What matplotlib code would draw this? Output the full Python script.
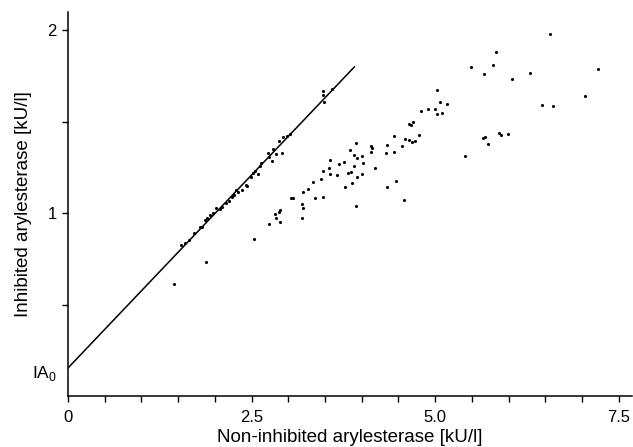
import matplotlib.pyplot as plt
import numpy as np

plt.rcParams['font.family'] = ['Liberation Sans', 'DejaVu Sans']

# points lying on the regression line (kU/l)
line_pts_x = [3.47, 3.47, 3.59, 3.48, 3.02, 2.98, 2.93, 2.87, 2.92, 2.79, 2.83,
              2.72, 2.74, 2.78, 2.63, 2.61, 2.54, 2.52, 2.59, 2.49, 2.44, 2.42,
              2.37, 2.32, 2.29, 2.26, 2.23, 2.19, 2.15, 2.10, 2.07, 2.02, 1.97,
              1.93, 1.89, 1.86, 1.83, 1.80, 1.72, 1.65, 1.59, 1.54]
line_pts_y = [1.668, 1.645, 1.679, 1.608, 1.432, 1.422, 1.419, 1.395, 1.331,
              1.351, 1.322, 1.331, 1.309, 1.287, 1.277, 1.260, 1.231, 1.219,
              1.213, 1.200, 1.149, 1.153, 1.129, 1.116, 1.127, 1.100, 1.091,
              1.069, 1.055, 1.036, 1.025, 1.027, 1.003, 0.991, 0.973, 0.963,
              0.927, 0.927, 0.891, 0.854, 0.836, 0.827]

# scattered points below the line
scat_x = [6.57, 5.83, 5.49, 5.79, 5.66, 6.05, 6.29, 7.22, 7.04, 6.45, 6.61,
          5.87, 5.89, 5.99, 5.65, 5.68, 5.72, 5.40, 5.02, 5.07, 5.16, 4.81,
          4.90, 5.00, 5.02, 5.09, 4.64, 4.67, 4.70, 4.44, 4.78, 4.59, 4.65,
          4.69, 4.72, 4.55, 3.92, 4.12, 4.14, 4.35, 3.84, 4.13, 4.33, 4.44,
          3.90, 3.93, 4.00, 3.90, 4.02, 4.18, 3.86, 4.01, 3.94, 3.87, 4.47,
          4.34, 4.58, 3.92, 3.57, 3.76, 3.69, 3.56, 3.47, 3.66, 3.57, 3.81,
          3.45, 3.34, 3.77, 3.27, 3.20, 3.04, 3.07, 3.36, 3.47, 3.19, 3.20,
          2.89, 2.87, 2.82, 2.83, 2.89, 2.74, 3.19, 2.53, 1.88, 1.44]
scat_y = [1.978, 1.880, 1.798, 1.809, 1.761, 1.736, 1.765, 1.789, 1.641, 1.592,
          1.585, 1.437, 1.430, 1.432, 1.410, 1.415, 1.377, 1.313, 1.672, 1.610,
          1.596, 1.559, 1.572, 1.570, 1.541, 1.546, 1.490, 1.483, 1.497, 1.424,
          1.426, 1.404, 1.399, 1.390, 1.397, 1.368, 1.384, 1.366, 1.357, 1.372,
          1.346, 1.335, 1.330, 1.337, 1.317, 1.302, 1.313, 1.257, 1.277, 1.249,
          1.226, 1.213, 1.200, 1.166, 1.178, 1.145, 1.074, 1.040, 1.290, 1.279,
          1.268, 1.246, 1.230, 1.211, 1.213, 1.222, 1.186, 1.171, 1.145, 1.133,
          1.115, 1.085, 1.085, 1.084, 1.089, 1.051, 1.027, 1.018, 1.007, 0.996,
          0.973, 0.954, 0.942, 0.976, 0.861, 0.734, 0.612]

# regression line end points
fit_x = [0.0, 3.90]
fit_y = [0.153, 1.80]
ia0 = 0.153

fig = plt.figure(figsize=(6.33, 4.47), dpi=100)
ax = fig.add_axes([0.1074, 0.1141, 0.891, 0.859])

ax.plot(fit_x, fit_y, color='black', lw=1.1)
ax.scatter(line_pts_x, line_pts_y, s=5, color='black', linewidths=0)
ax.scatter(scat_x, scat_y, s=5, color='black', linewidths=0)

ax.set_xlim(0, 7.68)
ax.set_ylim(0, 2.1)

ax.spines['top'].set_visible(False)
ax.spines['right'].set_visible(False)
ax.spines['left'].set_linewidth(1.1)
ax.spines['bottom'].set_linewidth(1.1)

ax.set_xticks([0, 2.5, 5.0, 7.5])
ax.set_xticklabels(['0', '2.5', '5.0', '7.5'])
ax.set_xticks(np.arange(0, 7.6, 0.5), minor=True)
ax.set_yticks([1, 2])
ax.set_yticklabels(['1', '2'])
ax.set_yticks([0.5, 1.5], minor=True)
ax.tick_params(which='both', direction='out', length=4, width=1, labelsize=12)
ax.tick_params(axis='x', pad=6)
ax.tick_params(axis='y', pad=4)

ax.annotate('IA$_{\\mathregular{0}}$', xy=(0, ia0), xytext=(-8, -4),
            textcoords='offset points', ha='right', va='center', fontsize=12.5,
            annotation_clip=False)

ax.set_xlabel('Non-inhibited arylesterase [kU/l]', fontsize=13.5, labelpad=3)
ax.set_ylabel('Inhibited arylesterase [kU/l]', fontsize=13.5, labelpad=11)

fig.savefig('out.png', dpi=100)
